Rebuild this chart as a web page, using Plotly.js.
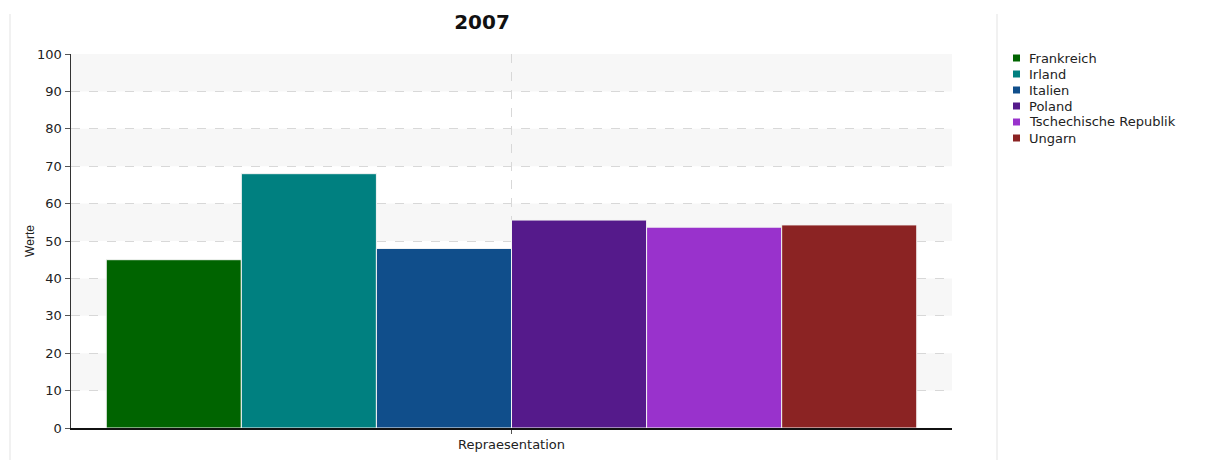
<!DOCTYPE html>
<html>
<head>
<meta charset="utf-8">
<script src="https://cdn.plot.ly/plotly-3.0.1.min.js"></script>
<style>html,body{margin:0;padding:0;background:#fff;}#chart{width:1208px;height:460px;}</style>
</head>
<body>
<div id="chart"></div>
<script>
const category = ["Repraesentation"];
const seriesNames = ["Frankreich", "Irland", "Italien", "Poland", "Tschechische Republik", "Ungarn"];
const seriesValues = [45, 68, 48, 55.6, 53.7, 54.3];
const seriesColors = ["#006400", "#008080", "#104e8b", "#551a8b", "#9932cc", "#8b2323"];
const yTicks = [0, 10, 20, 30, 40, 50, 60, 70, 80, 90, 100];

const traces = seriesNames.map((n, i) => ({
  type: "bar",
  name: n,
  x: category,
  y: [seriesValues[i]],
  marker: {color: seriesColors[i], line: {color: "#f4f4f4", width: 1}},
  hoverinfo: "name+y",
  showlegend: false
}));

// plot area geometry (pixels) used to place the hand-built legend
const L = 71, R = 256, T = 54, B = 32, W = 1208, H = 460;
const pw = W - L - R, ph = H - T - B;
const px = v => (v - L) / pw;
const py = v => (H - B - v) / ph;
const FONT = "DejaVu Sans, Verdana, sans-serif";

const shapes = [];
for (let k = 1; k < yTicks.length - 1; k += 2) {
  shapes.push({type: "rect", xref: "paper", yref: "y", x0: 0, x1: 1, y0: yTicks[k], y1: yTicks[k + 1],
    fillcolor: "#f7f7f7", line: {width: 0}, layer: "below"});
}
shapes.push({type: "line", xref: "paper", yref: "paper", x0: px(10), x1: px(10), y0: py(14), y1: py(462), line: {color: "#ececec", width: 1.5}});
shapes.push({type: "line", xref: "paper", yref: "paper", x0: px(997), x1: px(997), y0: py(14), y1: py(462), line: {color: "#ececec", width: 1.5}});

const annotations = [];
seriesNames.forEach((n, i) => {
  const cy = 58 + 16 * i;
  shapes.push({type: "rect", xref: "paper", yref: "paper", x0: px(1013), x1: px(1020), y0: py(cy + 3.5), y1: py(cy - 3.5),
    fillcolor: seriesColors[i], line: {width: 0}});
  annotations.push({xref: "paper", yref: "paper", x: px(1027), y: py(cy), xanchor: "left", yanchor: "middle",
    text: n, showarrow: false, font: {size: 13, color: "#222", family: FONT}});
});

const layout = {
  width: W, height: H,
  margin: {l: L, r: R, t: T, b: B},
  paper_bgcolor: "#ffffff",
  plot_bgcolor: "rgba(0,0,0,0)",
  font: {family: FONT, size: 13, color: "#222"},
  title: {text: "<b>2007</b>", x: 0.399, xref: "container", xanchor: "center", y: 0.952, yref: "container", yanchor: "middle",
    font: {size: 20, color: "#111", family: FONT}},
  barmode: "group",
  bargap: 0.08,
  bargroupgap: 0,
  showlegend: false,
  xaxis: {
    type: "category",
    showline: true, linecolor: "#111", linewidth: 1.5,
    ticks: "outside", ticklen: 4, tickcolor: "#555",
    showgrid: true, gridcolor: "#d8d8d8", griddash: "dash", gridwidth: 1,
    tickfont: {size: 13, color: "#222", family: FONT},
    fixedrange: true
  },
  yaxis: {
    range: [0, 100],
    tickvals: yTicks,
    ticktext: yTicks.map(String),
    showline: true, linecolor: "#333", linewidth: 1.5,
    ticks: "outside", ticklen: 5, tickcolor: "#555",
    showgrid: true, gridcolor: "#d8d8d8", griddash: "dash", gridwidth: 1,
    zeroline: false,
    tickfont: {size: 13, color: "#222", family: FONT},
    title: {text: "Werte", font: {size: 12, color: "#222", family: "Liberation Sans, Arial, sans-serif"}, standoff: 0},
    fixedrange: true
  },
  shapes: shapes,
  annotations: annotations
};

Plotly.newPlot("chart", traces, layout, {displayModeBar: false, staticPlot: true});
</script>
</body>
</html>
